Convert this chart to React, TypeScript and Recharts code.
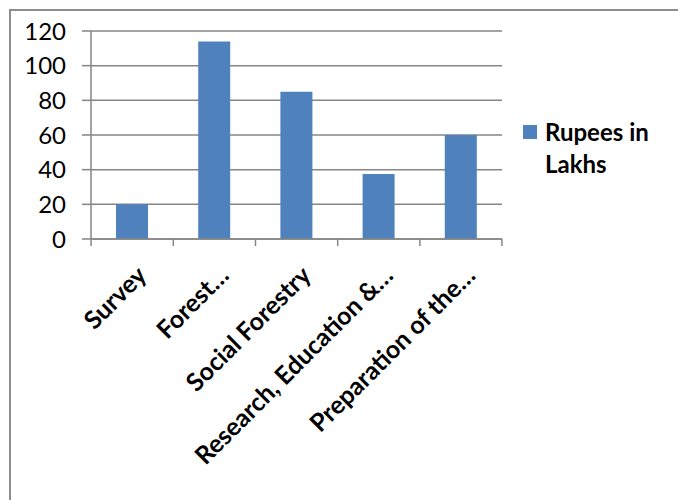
import React from 'react'
import { BarChart, Bar, XAxis, YAxis, CartesianGrid, Legend } from 'recharts'

const categories = [
  'Survey',
  'Forest…',
  'Social Forestry',
  'Research, Education &…',
  'Preparation of the…',
]
const rupeesInLakhs = [20, 114, 85, 37.5, 60]
const yTicks = [0, 20, 40, 60, 80, 100, 120]

const data = categories.map((name, i) => ({ name, value: rupeesInLakhs[i] }))

const FONT = 'Lato, "Open Sans", sans-serif'
const GRID = '#868686'
const BAR = '#4F81BD'
const LEGEND_W = 150

// category ticks sit on the band edges, not the centres
function CategoryTick(props: any) {
  const { x, y, payload, index, visibleTicksCount } = props
  const band = 82
  const half = band / 2
  const isLast = index === visibleTicksCount - 1
  const ax = x + 16
  const ay = y + 30
  return (
    <g>
      <line x1={x - half} y1={y - 8} x2={x - half} y2={y - 1} stroke={GRID} strokeWidth={1.5} />
      {isLast && <line x1={x + half} y1={y - 8} x2={x + half} y2={y - 1} stroke={GRID} strokeWidth={1.5} />}
      <text
        x={ax}
        y={ay}
        textAnchor="end"
        transform={`rotate(-45, ${ax}, ${ay})`}
        fontFamily={FONT}
        fontWeight={700}
        fontSize={25}
        fill="#000"
      >
        {payload.value}
      </text>
    </g>
  )
}

function LegendBox(props: any) {
  const item = props.payload?.[0]
  if (!item) return null
  return (
    <div style={{ display: 'flex', alignItems: 'flex-start', fontFamily: FONT }}>
      <div style={{ width: 14, height: 14, background: item.color, marginTop: 9, marginRight: 8 }} />
      <div style={{ width: 115, fontWeight: 700, fontSize: 24, lineHeight: '32px', color: '#000' }}>
        {item.value}
      </div>
    </div>
  )
}

export default function App() {
  return (
    <div
      style={{
        position: 'absolute',
        left: 0,
        top: 0,
        width: 678,
        height: 500,
        background: '#fff',
        overflow: 'hidden',
      }}
    >
      <div
        style={{
          position: 'absolute',
          left: 9,
          top: 9,
          width: 700,
          height: 520,
          border: '2px solid #8e8e8e',
        }}
      />
      <div style={{ position: 'absolute', left: 0, top: 0 }}>
        <BarChart
          width={678}
          height={500}
          data={data}
          margin={{ top: 31, right: 176 - LEGEND_W, bottom: 61, left: 31 }}
        >
          <CartesianGrid vertical={false} stroke={GRID} strokeWidth={1.5} />
          <XAxis
            dataKey="name"
            interval={0}
            height={200}
            axisLine={{ stroke: GRID, strokeWidth: 1.5 }}
            tickLine={false}
            tick={<CategoryTick />}
          />
          <YAxis
            domain={[0, 120]}
            ticks={yTicks}
            interval={0}
            width={60}
            axisLine={{ stroke: GRID, strokeWidth: 1.5 }}
            tickLine={{ stroke: GRID, strokeWidth: 1.5 }}
            tickSize={9}
            tickMargin={16}
            tick={{ fill: '#000', fontSize: 24, fontFamily: FONT }}
          />
          <Legend
            layout="vertical"
            align="right"
            verticalAlign="middle"
            content={<LegendBox />}
            wrapperStyle={{ position: 'absolute', left: 523, top: 116, width: LEGEND_W }}
          />
          <Bar
            dataKey="value"
            name="Rupees in Lakhs"
            fill={BAR}
            barSize={32}
            isAnimationActive={false}
          />
        </BarChart>
      </div>
    </div>
  )
}
